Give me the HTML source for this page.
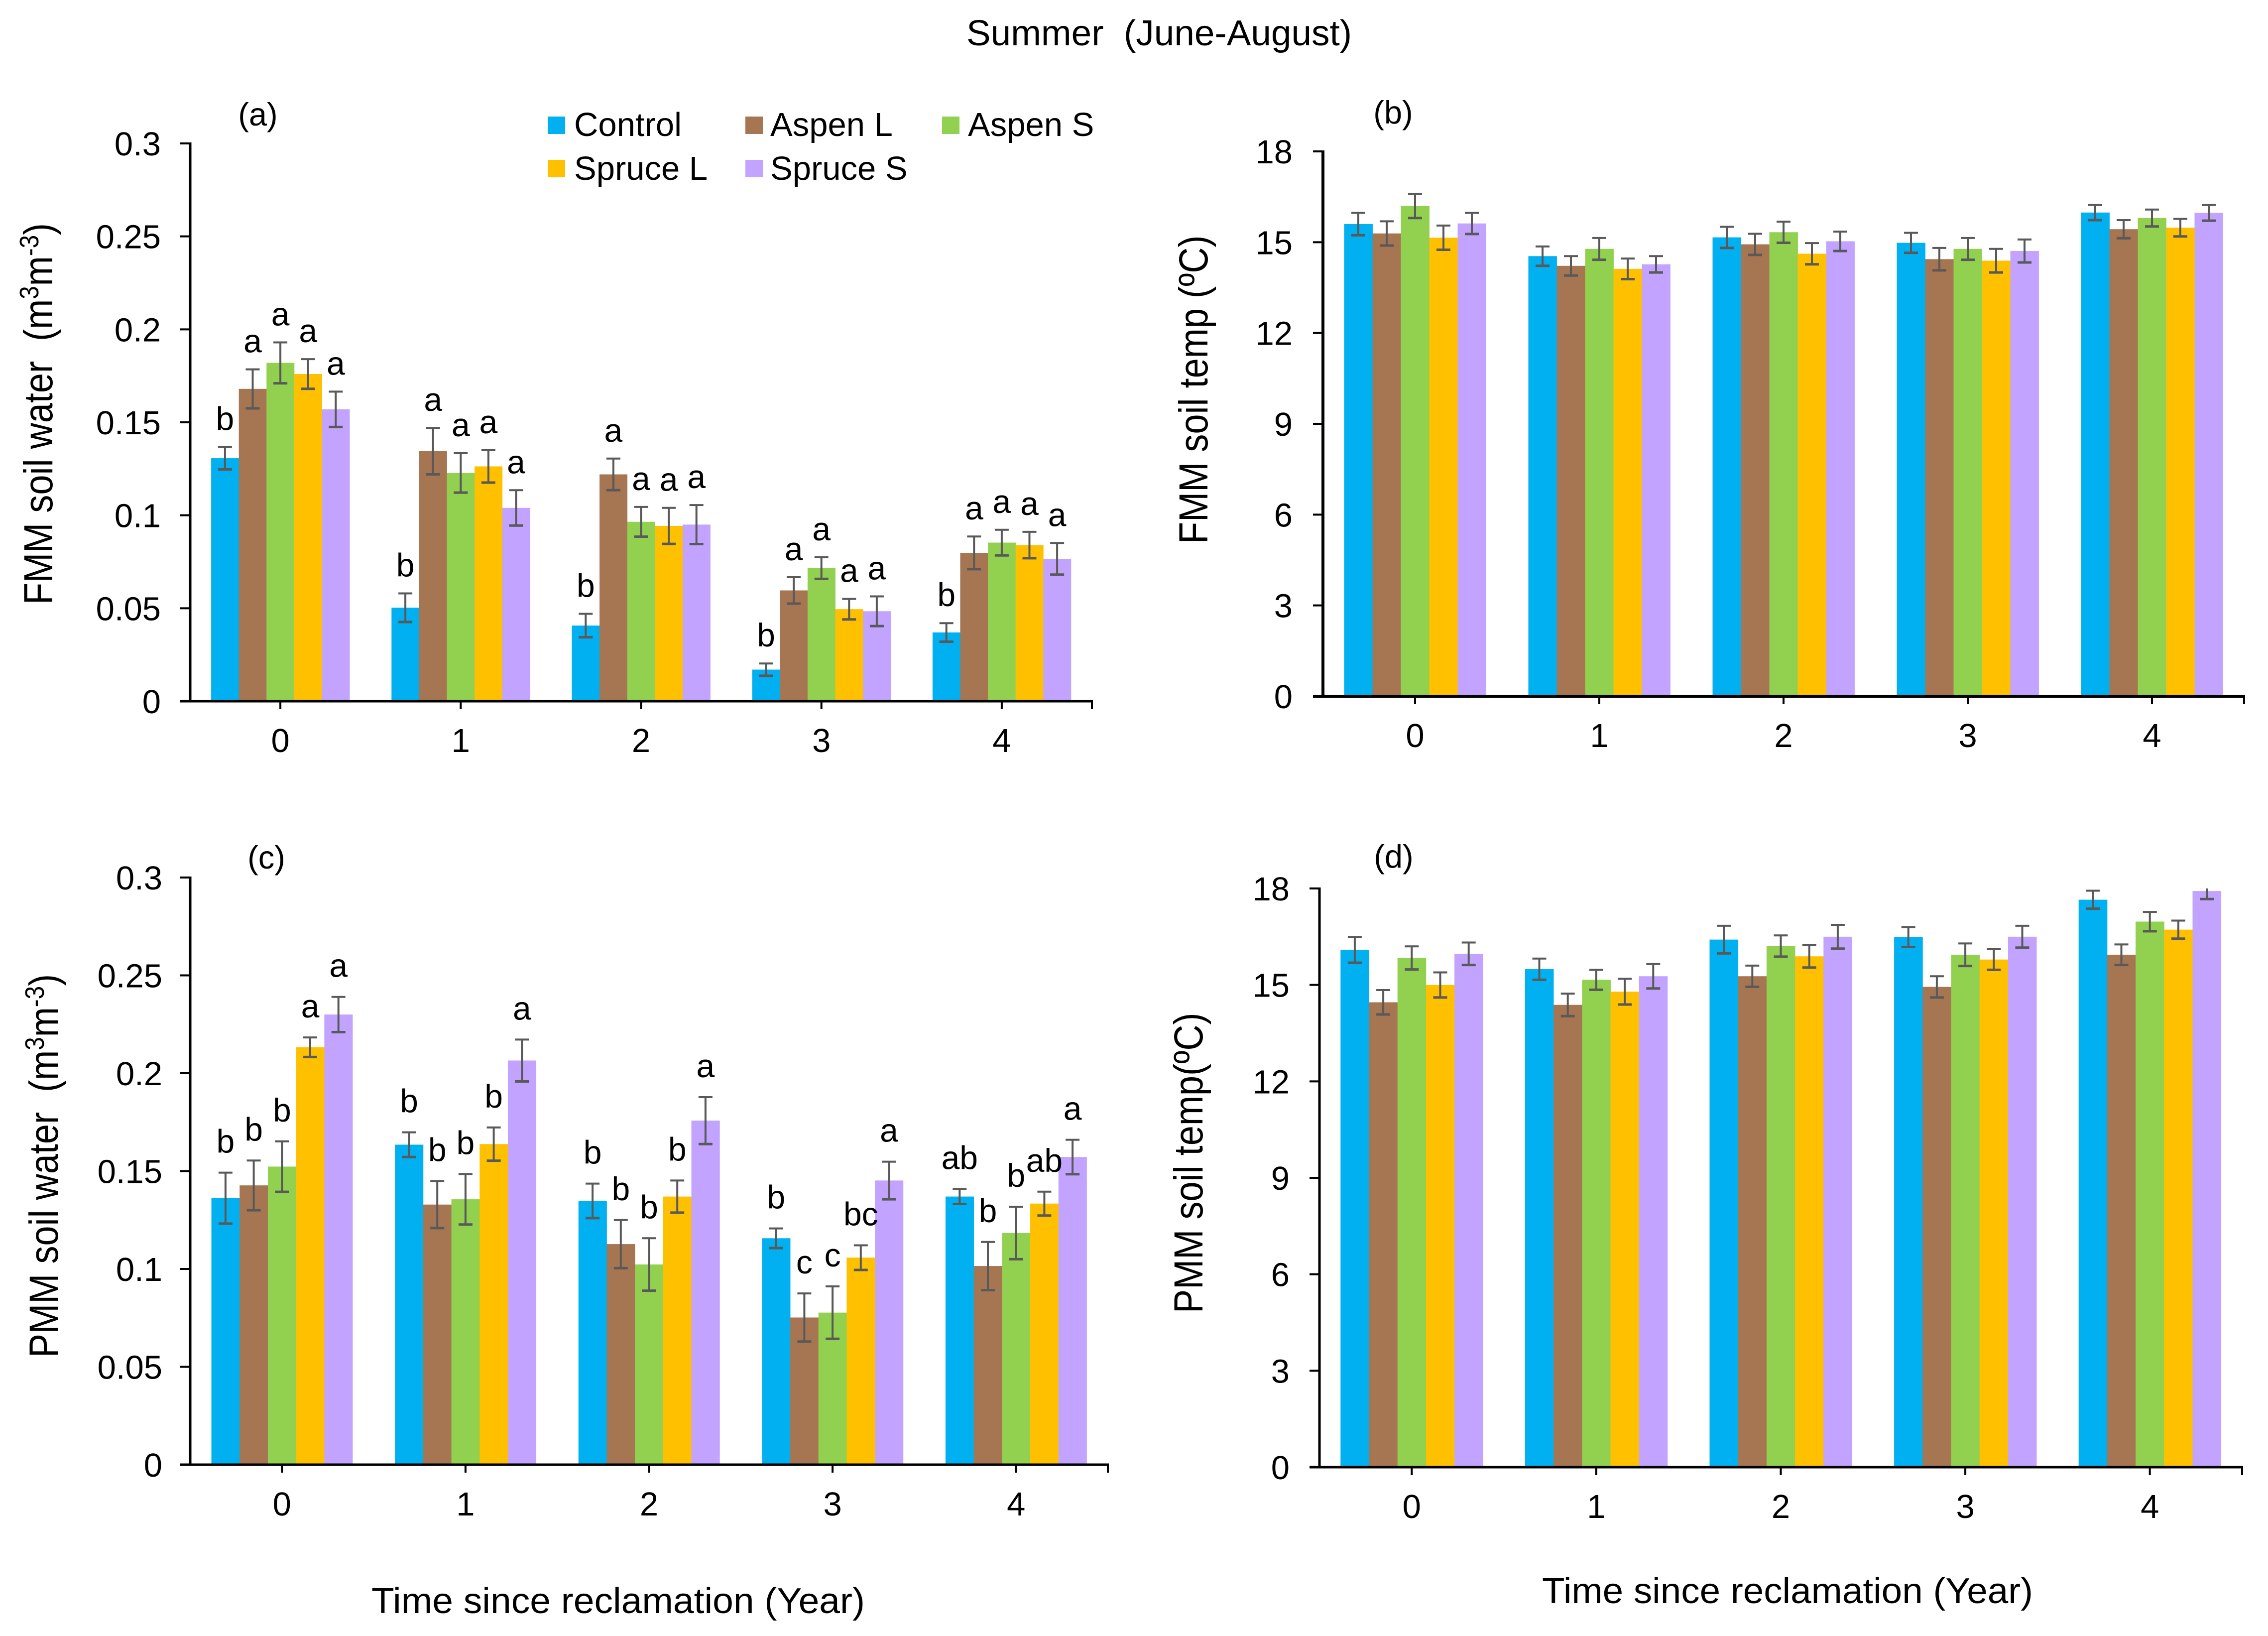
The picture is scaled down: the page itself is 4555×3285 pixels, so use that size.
<!DOCTYPE html>
<html lang="en">
<head>
<meta charset="utf-8">
<title>Summer (June-August) soil water and temperature</title>
<style>
html,body{margin:0;padding:0;background:#fff;}
svg{display:block;}
text{font-family:"Liberation Sans",Arial,sans-serif;fill:#000;}
</style>
</head>
<body>
<svg id="figure" xmlns="http://www.w3.org/2000/svg" width="4555" height="3285" viewBox="0 0 4555 3285">
  <rect x="0" y="0" width="4555" height="3285" fill="#ffffff"/>
  <text x="1941" y="91" font-size="72" textLength="774" lengthAdjust="spacingAndGlyphs" xml:space="preserve">Summer  (June-August)</text>

  <text x="518" y="252" font-size="65" text-anchor="middle">(a)</text>
  <text x="2798" y="248" font-size="65" text-anchor="middle">(b)</text>
  <text x="535" y="1744" font-size="65" text-anchor="middle">(c)</text>
  <text x="2799" y="1742" font-size="65" text-anchor="middle">(d)</text>

  <text transform="translate(105,1214) rotate(-90) scale(0.88,1)" font-size="82" xml:space="preserve">FMM soil water  (m<tspan font-size="54" dy="-28">3</tspan><tspan dy="28">m</tspan><tspan font-size="54" dy="-28">-3</tspan><tspan dy="28">)</tspan></text>
  <text transform="translate(2425,1092) rotate(-90) scale(0.88,1)" font-size="82" xml:space="preserve">FMM soil temp (ºC)</text>
  <text transform="translate(116,2726) rotate(-90) scale(0.88,1)" font-size="82" xml:space="preserve">PMM soil water  (m<tspan font-size="54" dy="-28">3</tspan><tspan dy="28">m</tspan><tspan font-size="54" dy="-28">-3</tspan><tspan dy="28">)</tspan></text>
  <text transform="translate(2415,2637) rotate(-90) scale(0.88,1)" font-size="82" xml:space="preserve">PMM soil temp(ºC)</text>

  <text x="746" y="3239" font-size="72" textLength="991" lengthAdjust="spacingAndGlyphs">Time since reclamation (Year)</text>
  <text x="3097" y="3219" font-size="72" textLength="986" lengthAdjust="spacingAndGlyphs">Time since reclamation (Year)</text>

  <g>
    <rect x="1100" y="234" width="35" height="35" fill="#00B0F0"/>
    <text x="1153" y="273" font-size="67">Control</text>
    <rect x="1497" y="234" width="35" height="35" fill="#A67552"/>
    <text x="1547" y="273" font-size="67">Aspen L</text>
    <rect x="1892" y="234" width="35" height="35" fill="#92D050"/>
    <text x="1944" y="273" font-size="67">Aspen S</text>
    <rect x="1100" y="321" width="35" height="35" fill="#FFC000"/>
    <text x="1153" y="361" font-size="67">Spruce L</text>
    <rect x="1497" y="321" width="35" height="35" fill="#C2A3FF"/>
    <text x="1547" y="361" font-size="67">Spruce S</text>
  </g>
</svg>

<script>
// Shared categories and series
const categories = ["0", "1", "2", "3", "4"];
const seriesNames = ["control", "aspen-l", "aspen-s", "spruce-l", "spruce-s"];
const seriesColors = ["#00B0F0", "#A67552", "#92D050", "#FFC000", "#C2A3FF"];

// Tick labels
const waterTicks = [0, 0.05, 0.1, 0.15, 0.2, 0.25, 0.3];
const tempTicks = [0, 3, 6, 9, 12, 15, 18];

// Panel (a): FMM soil water. One row per year, one column per series.
const panelAMeans = [
  [0.1307, 0.168, 0.182, 0.176, 0.157],
  [0.0503, 0.1345, 0.1228, 0.1263, 0.104],
  [0.0407, 0.122, 0.0965, 0.0943, 0.095],
  [0.017, 0.0596, 0.0716, 0.0495, 0.0484],
  [0.037, 0.0798, 0.0853, 0.084, 0.0766]
];
const panelAErrors = [
  [0.006, 0.0105, 0.011, 0.008, 0.0095],
  [0.0077, 0.0125, 0.0106, 0.0087, 0.0095],
  [0.0063, 0.0085, 0.008, 0.0097, 0.0105],
  [0.0033, 0.0071, 0.0058, 0.0055, 0.008],
  [0.005, 0.0088, 0.0069, 0.0071, 0.0085]
];
const panelALetters = [
  ["b", "a", "a", "a", "a"],
  ["b", "a", "a", "a", "a"],
  ["b", "a", "a", "a", "a"],
  ["b", "a", "a", "a", "a"],
  ["b", "a", "a", "a", "a"]
];

// Panel (b): FMM soil temperature
const panelBMeans = [
  [15.6, 15.29, 16.2, 15.15, 15.62],
  [14.54, 14.22, 14.78, 14.12, 14.27],
  [15.16, 14.93, 15.33, 14.62, 15.03],
  [14.98, 14.44, 14.78, 14.39, 14.71],
  [15.98, 15.43, 15.8, 15.48, 15.97]
];
const panelBErrors = [
  [0.37, 0.4, 0.4, 0.4, 0.35],
  [0.32, 0.32, 0.36, 0.34, 0.27],
  [0.35, 0.35, 0.35, 0.35, 0.32],
  [0.33, 0.37, 0.36, 0.39, 0.38],
  [0.25, 0.3, 0.28, 0.29, 0.26]
];

// Panel (c): PMM soil water
const panelCMeans = [
  [0.1362, 0.1427, 0.1523, 0.2133, 0.23],
  [0.1635, 0.1329, 0.1356, 0.1638, 0.2065],
  [0.1348, 0.1127, 0.1023, 0.137, 0.1758],
  [0.1157, 0.0752, 0.0777, 0.1058, 0.1452],
  [0.137, 0.1015, 0.1184, 0.1334, 0.1572]
];
const panelCErrors = [
  [0.013, 0.0127, 0.0129, 0.005, 0.009],
  [0.0063, 0.012, 0.0129, 0.0085, 0.0107],
  [0.0088, 0.0123, 0.0134, 0.0082, 0.012],
  [0.005, 0.0123, 0.0134, 0.0063, 0.0096],
  [0.0038, 0.0123, 0.0134, 0.0061, 0.0088]
];
const panelCLetters = [
  ["b", "b", "b", "a", "a"],
  ["b", "b", "b", "b", "a"],
  ["b", "b", "b", "b", "a"],
  ["b", "c", "c", "bc", "a"],
  ["ab", "b", "b", "ab", "a"]
];

// Panel (d): PMM soil temperature
const panelDMeans = [
  [16.09, 14.46, 15.84, 15.0, 15.97],
  [15.49, 14.38, 15.16, 14.79, 15.27],
  [16.41, 15.27, 16.21, 15.89, 16.5],
  [16.49, 14.94, 15.94, 15.79, 16.5],
  [17.65, 15.94, 16.97, 16.72, 17.92]
];
const panelDErrors = [
  [0.4, 0.38, 0.36, 0.39, 0.35],
  [0.33, 0.35, 0.31, 0.4, 0.38],
  [0.43, 0.33, 0.33, 0.35, 0.37],
  [0.31, 0.33, 0.35, 0.32, 0.34],
  [0.28, 0.32, 0.3, 0.28, 0.25]
];

const SVGNS = "http://www.w3.org/2000/svg";
const figure = document.getElementById("figure");

function make(parent, tag, attrs) {
  const el = document.createElementNS(SVGNS, tag);
  for (const key in attrs) el.setAttribute(key, attrs[key]);
  parent.appendChild(el);
  return el;
}

function drawPanel(id, left, right, top, bottom, barW, axisW, tickFont, labelRight, ticks, means, errors, letters, letterGap) {
  const yMax = ticks[ticks.length - 1];
  const catW = (right - left) / categories.length;
  const xScale = function (i) { return left + (i + 0.5) * catW; };
  const yScale = function (v) { return bottom - (v / yMax) * (bottom - top); };

  const panel = make(figure, "g", {});
  
  

  means.forEach(function (row, i) {
    row.forEach(function (value, s) {
      const bx = xScale(i) + (s - 2.5) * barW;
      const by = yScale(value);
      const bar = make(panel, "rect", { x: bx, y: by, width: barW + 0.4, height: bottom - by, fill: seriesColors[s] });
      
      
    });
  });

  means.forEach(function (row, i) {
    row.forEach(function (value, s) {
      const cx = xScale(i) + (s - 2) * barW;
      const hiValue = value + errors[i][s];
      const hi = yScale(Math.min(hiValue, yMax));
      const lo = yScale(value - errors[i][s]);
      const stem = make(panel, "line", { x1: cx, x2: cx, y1: hi, y2: lo, stroke: "#595959", "stroke-width": 4 });
      
      
      if (hiValue <= yMax) {
        const capTop = make(panel, "line", { x1: cx - 14, x2: cx + 14, y1: hi, y2: hi, stroke: "#595959", "stroke-width": 4 });
        
        
      }
      const capBottom = make(panel, "line", { x1: cx - 14, x2: cx + 14, y1: lo, y2: lo, stroke: "#595959", "stroke-width": 5 });
      
      

      if (letters) {
        const letter = make(panel, "text", { x: cx, y: hi - letterGap, "font-size": 66, "text-anchor": "middle" });
        letter.textContent = letters[i][s];
        
        
      }
    });
  });

  const yAxis = make(panel, "line", { x1: left, x2: left, y1: top - 2, y2: bottom, stroke: "#000", "stroke-width": axisW });
  
  
  const xAxis = make(panel, "line", { x1: left - 20, x2: right + 2, y1: bottom, y2: bottom, stroke: "#000", "stroke-width": axisW });
  
  

  ticks.forEach(function (tick) {
    const ty = yScale(tick);
    const mark = make(panel, "line", { x1: left - 20, x2: left, y1: ty, y2: ty, stroke: "#000", "stroke-width": 4 });
    
    
    const label = make(panel, "text", { x: labelRight, y: ty + 24, "font-size": tickFont, "text-anchor": "end" });
    label.textContent = String(tick);
    
    
  });

  categories.forEach(function (cat, i) {
    const tx = xScale(i);
    const mark = make(panel, "line", { x1: tx, x2: tx, y1: bottom, y2: bottom + 16, stroke: "#000", "stroke-width": 4 });
    
    
    const label = make(panel, "text", { x: tx, y: bottom + 102, "font-size": tickFont, "text-anchor": "middle" });
    label.textContent = cat;
    
    
  });
  const endMark = make(panel, "line", { x1: right, x2: right, y1: bottom, y2: bottom + 16, stroke: "#000", "stroke-width": 4 });
  
  
}

drawPanel("a", 382, 2193, 288, 1408, 55.6, 5, 67, 323, waterTicks, panelAMeans, panelAErrors, panelALetters, 34);
drawPanel("b", 2657, 4507, 304, 1398, 57, 6, 67, 2596, tempTicks, panelBMeans, panelBErrors, null, 0);
drawPanel("c", 382, 2225, 1762, 2941, 56.7, 5, 67, 326, waterTicks, panelCMeans, panelCErrors, panelCLetters, 40);
drawPanel("d", 2650, 4503, 1784, 2946, 57.2, 5, 67, 2590, tempTicks, panelDMeans, panelDErrors, null, 0);
</script>
</body>
</html>
